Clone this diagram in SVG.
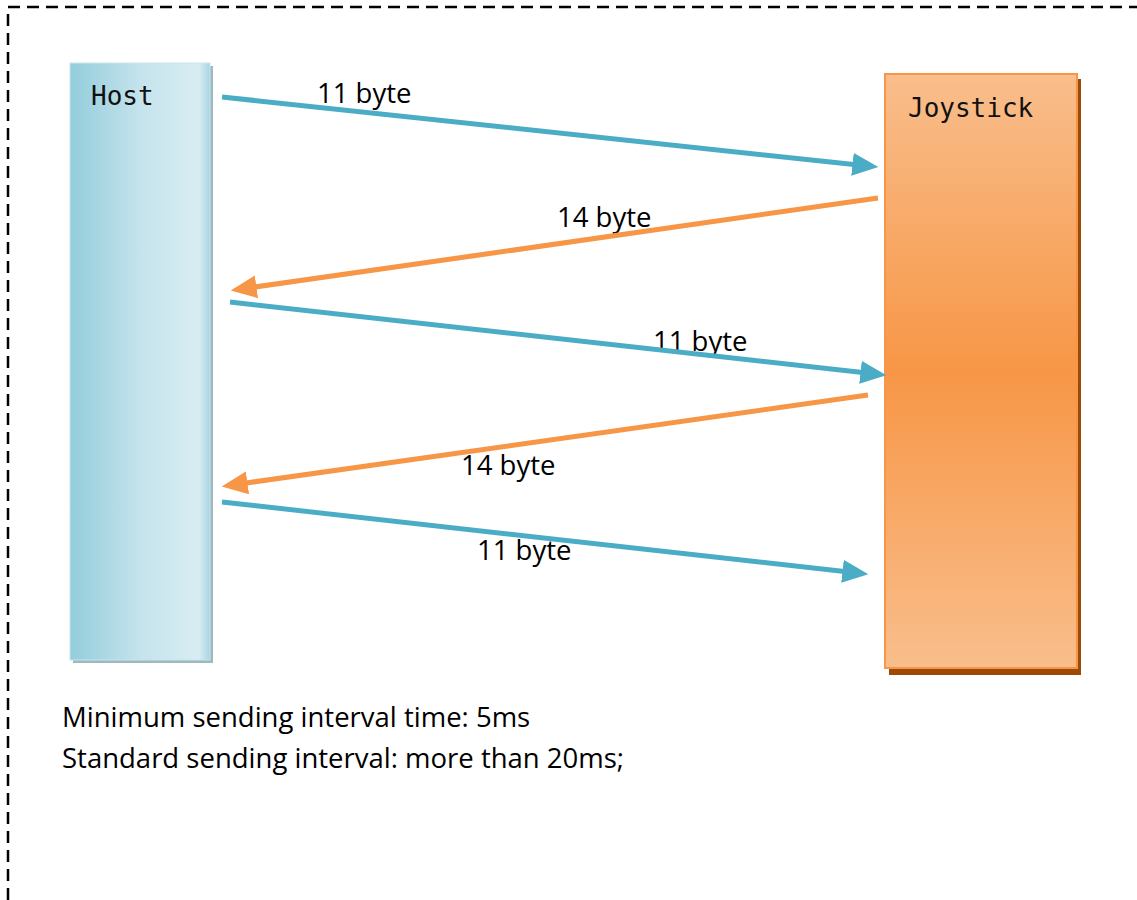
<svg xmlns="http://www.w3.org/2000/svg" width="1137" height="900" viewBox="0 0 1137 900">
  <style>
    .lbl { font-family: "Open Sans", "Liberation Sans", sans-serif; font-size: 27.5px; fill: #000; }
    .note { font-family: "Open Sans", "Liberation Sans", sans-serif; font-size: 27.5px; fill: #000; }
    .mono { font-family: "DejaVu Sans Mono", "Liberation Mono", monospace; font-size: 26px; fill: #111; }
    .blue { stroke: #4bacc6; stroke-width: 5; fill: none; marker-end: url(#headBlue); }
    .orange { stroke: #f79646; stroke-width: 5; fill: none; marker-end: url(#headOrange); }
  </style>
  <defs>
    <linearGradient id="hostFill" x1="0" y1="0" x2="1" y2="0">
      <stop offset="0" stop-color="#93cddb"/>
      <stop offset="0.5" stop-color="#c4e3ec"/>
      <stop offset="0.92" stop-color="#d9edf3"/>
      <stop offset="1" stop-color="#a9d5e1"/>
    </linearGradient>
    <linearGradient id="joyFill" x1="0" y1="0" x2="0" y2="1">
      <stop offset="0" stop-color="#f9be8c"/>
      <stop offset="0.5" stop-color="#f79646"/>
      <stop offset="1" stop-color="#f9be8c"/>
    </linearGradient>
    <marker id="headBlue" viewBox="0 0 10 10" refX="6" refY="5" markerWidth="5.2" markerHeight="4.6" orient="auto" markerUnits="strokeWidth" preserveAspectRatio="none">
      <path d="M0,0 L10,5 L0,10 Z" fill="#4bacc6"/>
    </marker>
    <marker id="headOrange" viewBox="0 0 10 10" refX="6" refY="5" markerWidth="5.2" markerHeight="4.6" orient="auto" markerUnits="strokeWidth" preserveAspectRatio="none">
      <path d="M0,0 L10,5 L0,10 Z" fill="#f79646"/>
    </marker>
  </defs>

  <rect width="1137" height="900" fill="#fff"/>

  <!-- dashed frame -->
  <path d="M8,900 V7 H1137" fill="none" stroke="#000" stroke-width="2.5" stroke-dasharray="12,7"/>

  <!-- Host -->
  <g id="host">
    <rect x="73" y="66" width="140" height="597" fill="#9fb9c0"/>
    <rect x="70" y="63" width="140" height="597" fill="url(#hostFill)" stroke="#c9e5ed" stroke-width="1"/>
    <text x="91" y="105" class="mono">Host</text>
  </g>

  <!-- Joystick -->
  <g id="joystick">
    <rect x="889" y="79" width="192" height="596" fill="#9c4a06"/>
    <rect x="885" y="74" width="192" height="594" fill="url(#joyFill)" stroke="#f79646" stroke-width="2"/>
    <text x="908" y="117" class="mono">Joystick</text>
  </g>

  <!-- labels (drawn under connectors) -->
  <g id="labels">
    <text x="317" y="103" class="lbl">11 byte</text>
    <text x="557" y="227" class="lbl">14 byte</text>
    <text x="653" y="351" class="lbl">11 byte</text>
    <text x="461" y="475" class="lbl">14 byte</text>
    <text x="477" y="560" class="lbl">11 byte</text>
  </g>

  <!-- connectors -->
  <g id="connectors">
    <line x1="222" y1="97" x2="868" y2="166" class="blue"/>
    <line x1="878" y1="198" x2="241" y2="289" class="orange"/>
    <line x1="230" y1="302" x2="876" y2="374" class="blue"/>
    <line x1="868" y1="395" x2="232" y2="485" class="orange"/>
    <line x1="222" y1="502" x2="858" y2="573" class="blue"/>
  </g>

  <g id="notes">
    <text x="62" y="727" class="note">Minimum sending interval time: 5ms</text>
    <text x="62" y="768" class="note">Standard sending interval: more than 20ms;</text>
  </g>
</svg>
